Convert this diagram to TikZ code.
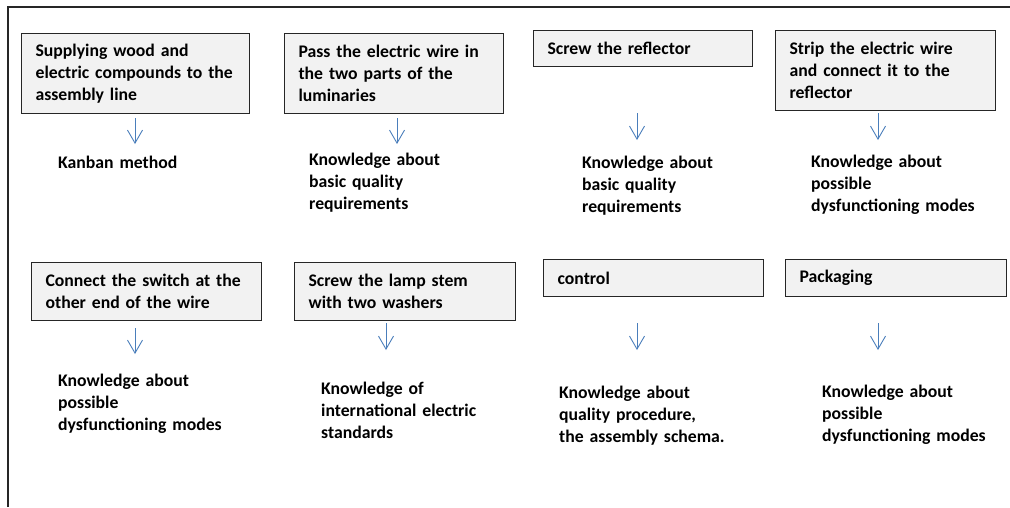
\documentclass[tikz,border=0pt]{standalone}
\usepackage{fontspec}
\setmainfont{Carlito}
\usepackage{xcolor}
\usepackage{tikz}
\usetikzlibrary{arrows.meta}
\definecolor{boxfill}{HTML}{F2F2F2}
\definecolor{boxline}{HTML}{262626}
\definecolor{flowblue}{HTML}{4A7EBB}
\newcommand{\labfont}{\fontsize{17.7}{22}\selectfont\bfseries}
\tikzset{
  frame/.style={draw=boxline, line width=1.2pt},
  stepbox/.style={draw=boxline, fill=boxfill, line width=1.2pt, anchor=north west,
    inner xsep=14pt, inner ysep=0pt, align=left, font=\labfont},
  flow/.style={draw=flowblue, line width=0.9pt, -{Straight Barb[length=13pt,width=15pt]}},
  know/.style={anchor=base west, inner sep=0pt, align=left, text width=230pt, font=\labfont}
}

\begin{document}
\begin{tikzpicture}[x=1pt,y=-1pt]
  \useasboundingbox (0,0) rectangle (1010,507);

  % outer frame (top and left only)
  \coordinate (fa) at (8,507);
  \coordinate (fb) at (8,7);
  \coordinate (fc) at (1010,7);
  \draw[frame] (fa) -- (fb) -- (fc);

  % first row of steps
  \node[stepbox, text width=200pt, minimum height=80pt] (b1) at (21,33)
    {Supplying wood and\\electric compounds to the\\assembly line};
  \node[stepbox, text width=191pt, minimum height=80pt] (b2) at (284,33)
    {Pass the electric wire in\\the two parts of the\\luminaries};
  \node[stepbox, text width=191pt, minimum height=36pt] (b3) at (533,30)
    {Screw the reflector};
  \node[stepbox, text width=192pt, minimum height=80pt] (b4) at (775,30)
    {Strip the electric wire\\and connect it to the\\reflector};

  % second row of steps
  \node[stepbox, text width=202pt, minimum height=58pt] (b5) at (31,262)
    {Connect the switch at the\\other end of the wire};
  \node[stepbox, text width=193pt, minimum height=58pt] (b6) at (294,262)
    {Screw the lamp stem\\with two washers};
  \node[stepbox, text width=192pt, minimum height=37pt] (b7) at (543,259)
    {control};
  \node[stepbox, text width=193pt, minimum height=37pt] (b8) at (785,259)
    {Packaging};

  % knowledge needed
  \node[know] (k1) at (58,168) {Kanban method};
  \node[know] (k2) at (309,165) {Knowledge about\\basic quality\\requirements};
  \node[know] (k3) at (582,168) {Knowledge about\\basic quality\\requirements};
  \node[know] (k4) at (811,167) {Knowledge about\\possible\\dysfunctioning modes};
  \node[know] (k5) at (58,386) {Knowledge about\\possible\\dysfunctioning modes};
  \node[know] (k6) at (321,394) {Knowledge of\\international electric\\standards};
  \node[know] (k7) at (559,398) {Knowledge about\\quality procedure,\\the assembly schema.};
  \node[know] (k8) at (822,397) {Knowledge about\\possible\\dysfunctioning modes};

  % arrows
  \coordinate (a1) at (135,118); \coordinate (z1) at (135,144);
  \coordinate (a2) at (397,118); \coordinate (z2) at (397,144);
  \coordinate (a3) at (637,113); \coordinate (z3) at (637,140);
  \coordinate (a4) at (878,113); \coordinate (z4) at (878,140);
  \coordinate (a5) at (135,328); \coordinate (z5) at (135,354);
  \coordinate (a6) at (386,323); \coordinate (z6) at (386,350);
  \coordinate (a7) at (637,323); \coordinate (z7) at (637,350);
  \coordinate (a8) at (878,323); \coordinate (z8) at (878,350);
  \draw[flow] (a1) -- (z1);
  \draw[flow] (a2) -- (z2);
  \draw[flow] (a3) -- (z3);
  \draw[flow] (a4) -- (z4);
  \draw[flow] (a5) -- (z5);
  \draw[flow] (a6) -- (z6);
  \draw[flow] (a7) -- (z7);
  \draw[flow] (a8) -- (z8);
\end{tikzpicture}
\end{document}
